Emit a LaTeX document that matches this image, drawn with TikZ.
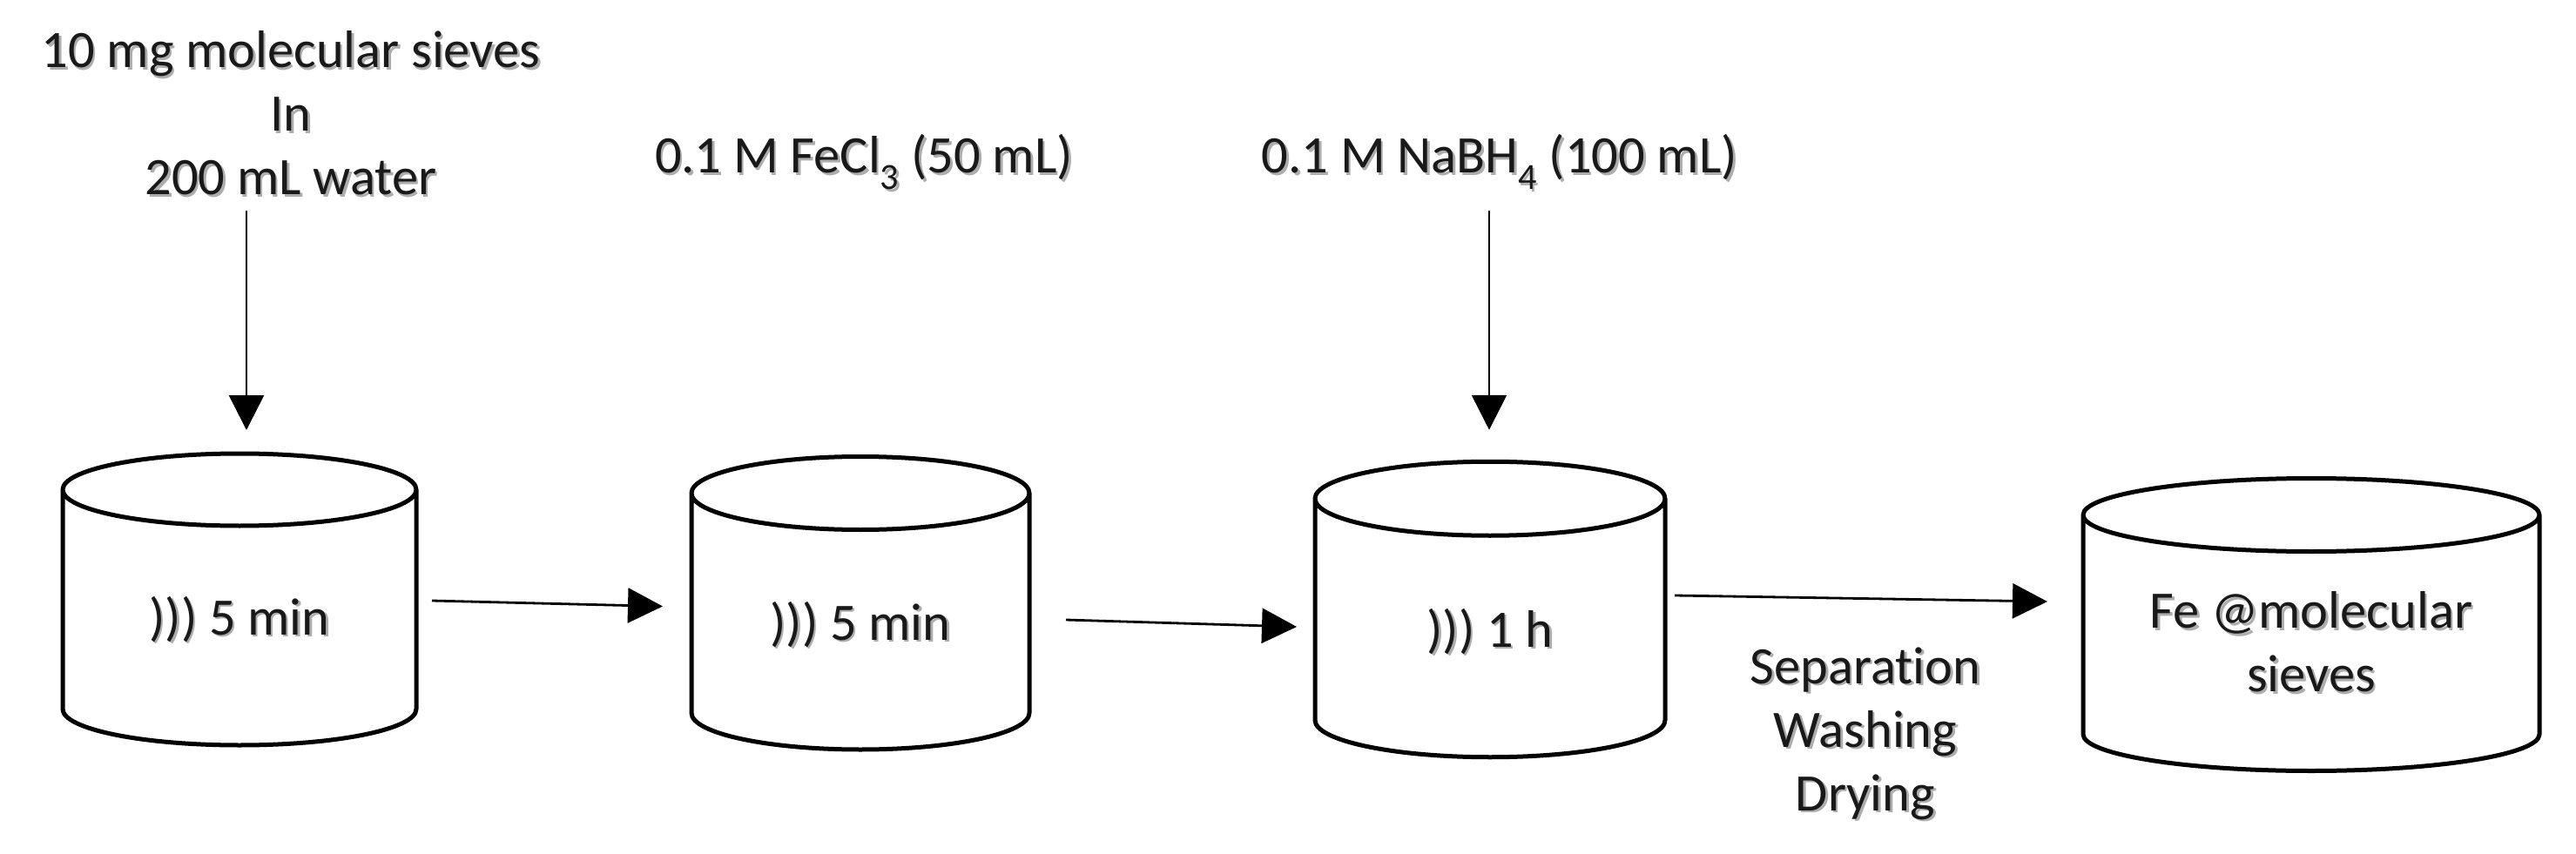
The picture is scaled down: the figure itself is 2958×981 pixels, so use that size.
\documentclass[tikz,border=0pt]{standalone}
\usepackage{fontspec}
\setmainfont[Ligatures=NoCommon]{Carlito}
\usetikzlibrary{arrows.meta}
\newcommand{\shd}[1]{\leavevmode\rlap{\hspace{2.5pt}\raisebox{-2.5pt}[0pt][0pt]{\textcolor{black!32}{#1}}}#1}
% #1 node name, #2 half width, #3 cap half height
\newcommand{\vesselbody}[3]{%
  \draw[vesselline] ([yshift=-#3pt]#1.north west) -- ([yshift=#3pt]#1.south west)
    arc[start angle=180,end angle=360,x radius=#2pt,y radius=#3pt]
    -- ([yshift=-#3pt]#1.north east)
    arc[start angle=0,end angle=360,x radius=#2pt,y radius=#3pt];}
\tikzset{
  vessel/.style={rectangle,inner sep=0pt,outer sep=0pt},
  vesselline/.style={draw=black,line width=5pt,line join=round},
  lab/.style={inner sep=0pt,outer sep=0pt,align=center,text=black!90,font=\fontsize{60.5}{73}\selectfont},
  arr/.style={draw=black,line width=2.8pt,-{Triangle[length=40pt,width=40pt]}}
}
\begin{document}
\begin{tikzpicture}[x=1pt,y=-1pt]
\useasboundingbox (0,0) rectangle (2958,981);
\node[vessel,minimum width=406pt,minimum height=335pt] (c1) at (275,688.5) {};
\node[vessel,minimum width=388pt,minimum height=336.5pt] (c2) at (988,692.75) {};
\node[vessel,minimum width=402pt,minimum height=339.5pt] (c3) at (1711,700) {};
\node[vessel,minimum width=524pt,minimum height=336pt] (c4) at (2654,717.5) {};
\vesselbody{c1}{203}{41.5}
\vesselbody{c2}{194}{42}
\vesselbody{c3}{201}{42.5}
\vesselbody{c4}{262}{42}
\node[lab,anchor=base] (t1) at (275,729) {\shd{))) 5 min}};
\node[lab,anchor=base] (t2) at (988,735) {\shd{))) 5 min}};
\node[lab,anchor=base] (t3) at (1711,743) {\shd{))) 1 h}};
\node[lab,anchor=south] (t4) at (2654,795) {\shd{Fe @molecular}\\\shd{sieves}};
\node[lab,anchor=south] (l1) at (334,224) {\shd{10 mg molecular sieves}\\\shd{In}\\\shd{200 mL water}};
\node[lab,anchor=base] (l2) at (992,199) {\shd{0.1 M FeCl\textsubscript{3} (50 mL)}};
\node[lab,anchor=base] (l3) at (1722,199) {\shd{0.1 M NaBH\textsubscript{4} (100 mL)}};
\node[lab,anchor=south] (l4) at (2142,941.5) {\shd{Separation}\\\shd{Washing}\\\shd{Drying}};
\draw[arr] ([xshift=-51pt,yshift=-18pt]l1.south) -- ([xshift=8pt,yshift=27pt]c1.north);
\draw[arr] ([xshift=-12pt,yshift=-43pt]l3.base) -- ([xshift=-1pt,yshift=36.5pt]c3.north);
\draw[arr] ([xshift=18pt,yshift=-1.5pt]c1.east) -- ([xshift=-33pt,yshift=-3.75pt]c2.west);
\draw[arr] ([xshift=42pt,yshift=-19.25pt]c2.east) -- ([xshift=-21pt,yshift=-20pt]c3.west);
\draw[arr] ([xshift=11pt,yshift=16pt]c3.east) -- ([xshift=-41pt,yshift=26.5pt]c4.west);
\end{tikzpicture}
\end{document}
